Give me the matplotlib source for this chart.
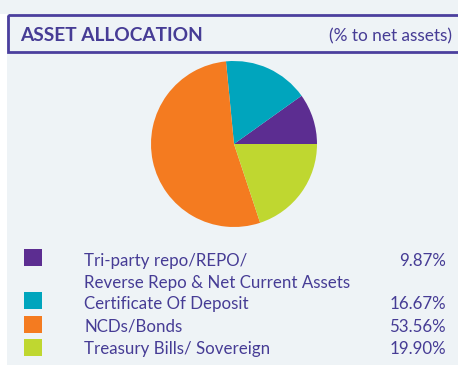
import matplotlib
matplotlib.use("Agg")
import matplotlib.pyplot as plt
from matplotlib.patches import Rectangle

# asset allocation (% to net assets)
labels = ["Tri-party repo/REPO/\nReverse Repo & Net Current Assets",
          "Certificate Of Deposit",
          "NCDs/Bonds",
          "Treasury Bills/ Sovereign"]
values = [9.87, 16.67, 53.56, 19.90]
colors = ["#5c2d91", "#00a5bd", "#f47b20", "#bfd730"]

W, H = 458, 365
bg = "#eef3f6"
ink = "#463c95"
font = ["Lato", "DejaVu Sans"]

fig = plt.figure(figsize=(W / 100, H / 100), dpi=100)
fig.patch.set_facecolor("white")

# background layer in pixel coordinates (y down)
ax = fig.add_axes([0, 0, 1, 1])
ax.set_xlim(0, W)
ax.set_ylim(H, 0)
ax.axis("off")
ax.add_patch(Rectangle((0, 0), W, 14, color=bg, lw=0))
ax.add_patch(Rectangle((7, 14), W, H, color=bg, lw=0))

# header box
ax.add_patch(Rectangle((8, 15), W, 37, fill=False, edgecolor="#4b3f9e", lw=2))
ax.text(20, 41, "ASSET ALLOCATION", color=ink, fontsize=13.8, fontweight="bold",
        family=font, va="baseline", ha="left")
ax.text(452, 41, "(% to net assets)", color=ink, fontsize=12.4,
        family=font, va="baseline", ha="right")

# pie
cx, cy, r = 234, 144, 83
pax = fig.add_axes([(cx - r) / W, (H - cy - r) / H, 2 * r / W, 2 * r / H])
pax.pie(values, colors=colors, startangle=0, counterclock=True,
        wedgeprops=dict(linewidth=0))
pax.set_xlim(-1, 1)
pax.set_ylim(-1, 1)
pax.axis("off")

# legend rows: square top, first text baseline
square_tops = [249, 292, 316, 339]
baselines = [266, 309, 332, 354]
line_gap = 22
for lab, val, col, sq, yb in zip(labels, values, colors, square_tops, baselines):
    ax.add_patch(Rectangle((24, sq), 18, 17, color=col, lw=0))
    for i, line in enumerate(lab.split("\n")):
        ax.text(84, yb + i * line_gap, line, color=ink, fontsize=12.2,
                family=font, va="baseline", ha="left")
    ax.text(446, yb, "{:.2f}%".format(val), color=ink, fontsize=12.2,
            family=font, va="baseline", ha="right")

fig.savefig("out.png", dpi=100, facecolor=fig.get_facecolor())
